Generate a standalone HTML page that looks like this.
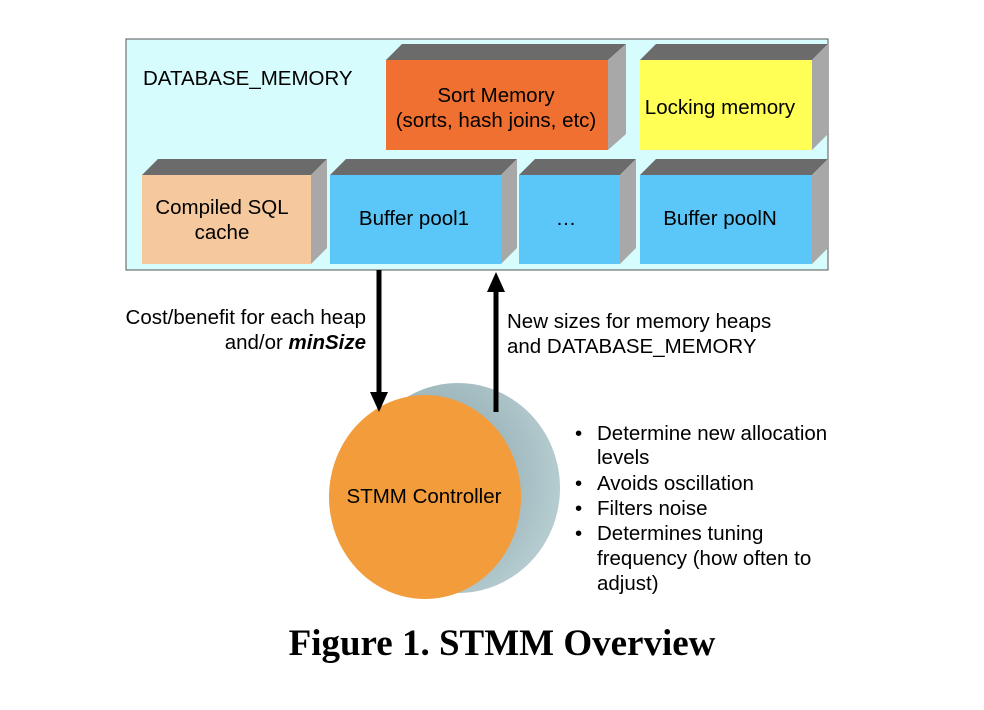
<!DOCTYPE html>
<html><head><style>
html,body{margin:0;padding:0;background:#fff;}
svg{display:block;}
text{font-family:"Liberation Sans",Arial,sans-serif;fill:#000;}
</style></head><body>
<svg width="984" height="710" viewBox="0 0 984 710" xmlns="http://www.w3.org/2000/svg">
<defs>
<radialGradient id="g" cx="0.35" cy="0.45" r="0.7">
<stop offset="0" stop-color="#7e9ca2"/><stop offset="1" stop-color="#b9cfd3"/>
</radialGradient>
</defs>
<rect x="126" y="39" width="702" height="231" fill="#d6fcfd" stroke="#555" stroke-width="1"/>
<text x="143" y="85" font-size="20.5">DATABASE_MEMORY</text>
<g stroke="none">
<polygon points="386,60 402,44 626,44 608,60" fill="#6b6b6b"/>
<polygon points="608,60 626,44 626,134 608,150" fill="#a8a8a8"/>
<rect x="386" y="60" width="222" height="90" fill="#ef7030"/>
<polygon points="640,60 656,44 828,44 812,60" fill="#6b6b6b"/>
<polygon points="812,60 828,44 828,134 812,150" fill="#a8a8a8"/>
<rect x="640" y="60" width="172" height="90" fill="#ffff55"/>
<polygon points="142,175 158,159 327,159 311,175" fill="#6b6b6b"/>
<polygon points="311,175 327,159 327,248 311,264" fill="#a8a8a8"/>
<rect x="142" y="175" width="169" height="89" fill="#f5c99d"/>
<polygon points="330,175 346,159 517,159 501,175" fill="#6b6b6b"/>
<polygon points="501,175 517,159 517,248 501,264" fill="#a8a8a8"/>
<rect x="330" y="175" width="171" height="89" fill="#5bc6f8"/>
<polygon points="519,175 535,159 636,159 620,175" fill="#6b6b6b"/>
<polygon points="620,175 636,159 636,248 620,264" fill="#a8a8a8"/>
<rect x="519" y="175" width="101" height="89" fill="#5bc6f8"/>
<polygon points="640,175 656,159 828,159 812,175" fill="#6b6b6b"/>
<polygon points="812,175 828,159 828,248 812,264" fill="#a8a8a8"/>
<rect x="640" y="175" width="172" height="89" fill="#5bc6f8"/>
</g>
<g font-size="20.5" text-anchor="middle">
<text x="496" y="102">Sort Memory</text>
<text x="496" y="127">(sorts, hash joins, etc)</text>
<text x="720" y="114">Locking memory</text>
<text x="222" y="214">Compiled SQL</text>
<text x="222" y="239">cache</text>
<text x="414" y="225">Buffer pool1</text>
<text x="566" y="225">…</text>
<text x="720" y="225">Buffer poolN</text>
</g>

<ellipse cx="458" cy="488" rx="102" ry="105" fill="url(#g)"/>
<ellipse cx="425" cy="497" rx="96" ry="102" fill="#f39c3c"/>
<text x="424" y="503" font-size="20.5" text-anchor="middle">STMM Controller</text>

<line x1="379" y1="270" x2="379" y2="395" stroke="#000" stroke-width="5"/>
<polygon points="370,392 388,392 379,412" fill="#000"/>
<line x1="496" y1="412" x2="496" y2="290" stroke="#000" stroke-width="5"/>
<polygon points="487,292 505,292 496,272" fill="#000"/>

<text x="366" y="324" font-size="20.5" text-anchor="end">Cost/benefit for each heap</text>
<text x="366" y="349" font-size="20.5" text-anchor="end">and/or <tspan font-weight="bold" font-style="italic">minSize</tspan></text>
<text x="507" y="328" font-size="20.5">New sizes for memory heaps</text>
<text x="507" y="353" font-size="20.5">and DATABASE_MEMORY</text>

<g font-size="20.5">
<text x="575" y="440">•</text><text x="597" y="440">Determine new allocation</text>
<text x="597" y="464">levels</text>
<text x="575" y="490">•</text><text x="597" y="490">Avoids oscillation</text>
<text x="575" y="515">•</text><text x="597" y="515">Filters noise</text>
<text x="575" y="540">•</text><text x="597" y="540">Determines tuning</text>
<text x="597" y="565">frequency (how often to</text>
<text x="597" y="590">adjust)</text>
</g>
<text x="502" y="655" font-size="37" font-weight="bold" text-anchor="middle" style="font-family:'Liberation Serif','Times New Roman',serif">Figure 1. STMM Overview</text>
</svg>
</body></html>
